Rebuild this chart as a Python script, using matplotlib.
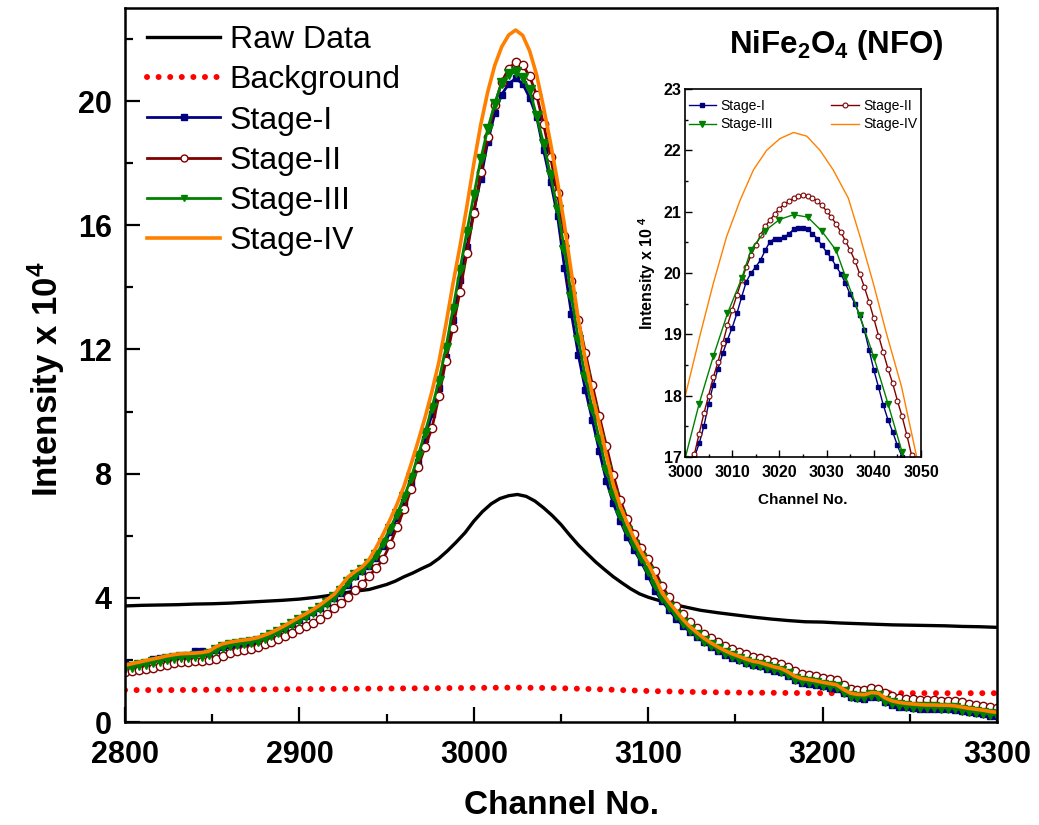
import numpy as np
import matplotlib
matplotlib.use("Agg")
from matplotlib import pyplot as plt
from matplotlib.ticker import MultipleLocator

plt.rcParams['font.family'] = ['Liberation Sans', 'DejaVu Sans']
plt.rcParams['mathtext.fontset'] = 'custom'
plt.rcParams['mathtext.rm'] = 'Liberation Sans:bold'
plt.rcParams['mathtext.bf'] = 'Liberation Sans:bold'
plt.rcParams['mathtext.default'] = 'bf'

# ---- main panel data (intensity in units of 10^4) ----
raw_ch = [2800, 2810, 2820, 2830, 2840, 2850, 2860, 2870, 2880, 2890,
          2900, 2910, 2920, 2930, 2940, 2950, 2955, 2960, 2965, 2970,
          2975, 2980, 2985, 2990, 2995, 3000, 3005, 3010, 3015, 3020,
          3025, 3030, 3035, 3040, 3045, 3050, 3055, 3060, 3065, 3070,
          3075, 3080, 3085, 3090, 3095, 3100, 3110, 3120, 3130, 3140,
          3150, 3160, 3170, 3180, 3190, 3200, 3210, 3220, 3230, 3240,
          3250, 3260, 3270, 3280, 3290, 3300]
raw_data = [3.74, 3.76, 3.77, 3.78, 3.80, 3.81, 3.83, 3.86, 3.89, 3.92,
            3.96, 4.02, 4.10, 4.20, 4.27, 4.43, 4.54, 4.68, 4.80, 4.94,
            5.07, 5.27, 5.52, 5.80, 6.10, 6.47, 6.78, 7.03, 7.20, 7.29,
            7.33, 7.27, 7.12, 6.90, 6.65, 6.36, 6.02, 5.70, 5.42, 5.15,
            4.91, 4.68, 4.48, 4.29, 4.13, 4.02, 3.85, 3.72, 3.60, 3.52,
            3.45, 3.38, 3.32, 3.27, 3.23, 3.22, 3.19, 3.17, 3.15, 3.13,
            3.12, 3.11, 3.10, 3.08, 3.07, 3.05]

bg_ch = np.arange(2800, 3301, 25)
background = [1.03, 1.03, 1.04, 1.05, 1.06, 1.07, 1.08, 1.09, 1.10, 1.11,
              1.09, 1.05, 1.00, 0.97, 0.95, 0.94, 0.93, 0.93, 0.93, 0.93,
              0.93]

ch = np.arange(2800, 3301, 4)
stage1 = [1.90, 1.80, 1.83, 1.88, 2.02, 2.05, 2.03, 2.07, 2.10, 2.11,
          2.28, 2.30, 2.18, 2.32, 2.42, 2.47, 2.51, 2.54, 2.57, 2.62,
          2.70, 2.80, 2.92, 3.02, 3.15, 3.28, 3.40, 3.53, 3.68, 3.85,
          4.00, 4.16, 4.43, 4.70, 4.87, 5.03, 5.29, 5.67, 6.11, 6.58,
          7.09, 7.69, 8.39, 9.13, 9.91, 10.77, 11.75, 12.96, 14.25, 15.30,
          16.45, 17.50, 18.69, 19.61, 20.21, 20.56, 20.73, 20.56, 20.11, 19.50,
          18.42, 17.41, 16.30, 14.64, 13.14, 11.81, 10.69, 9.72, 8.72, 7.77,
          7.04, 6.47, 5.96, 5.53, 5.15, 4.71, 4.22, 3.89, 3.61, 3.33,
          3.10, 2.90, 2.75, 2.57, 2.42, 2.29, 2.17, 2.07, 1.99, 1.90,
          1.83, 1.79, 1.72, 1.65, 1.60, 1.49, 1.35, 1.27, 1.24, 1.20,
          1.15, 1.11, 1.07, 0.92, 0.80, 0.76, 0.75, 0.82, 0.80, 0.64,
          0.55, 0.50, 0.47, 0.45, 0.43, 0.42, 0.42, 0.41, 0.41, 0.39,
          0.35, 0.31, 0.28, 0.25, 0.21, 0.18]
stage2 = [1.60, 1.63, 1.67, 1.71, 1.75, 1.80, 1.85, 1.89, 1.92, 1.94,
          1.96, 1.98, 2.00, 2.02, 2.12, 2.22, 2.28, 2.32, 2.36, 2.42,
          2.50, 2.58, 2.68, 2.76, 2.88, 3.00, 3.10, 3.20, 3.32, 3.48,
          3.66, 3.84, 4.04, 4.25, 4.45, 4.72, 4.95, 5.25, 5.72, 6.28,
          6.85, 7.50, 8.22, 8.85, 9.46, 10.50, 11.64, 12.70, 13.85, 15.10,
          16.40, 17.71, 18.85, 19.88, 20.62, 21.05, 21.25, 21.17, 20.80, 20.20,
          19.26, 18.20, 17.03, 15.65, 14.20, 12.95, 11.90, 10.85, 9.85, 8.90,
          7.95, 7.15, 6.55, 6.05, 5.62, 5.25, 4.85, 4.38, 4.02, 3.74,
          3.47, 3.22, 3.03, 2.85, 2.70, 2.57, 2.45, 2.35, 2.27, 2.18,
          2.11, 2.07, 2.00, 1.93, 1.88, 1.77, 1.63, 1.55, 1.52, 1.48,
          1.43, 1.39, 1.35, 1.20, 1.08, 1.04, 1.03, 1.10, 1.08, 0.92,
          0.83, 0.78, 0.75, 0.73, 0.71, 0.70, 0.70, 0.69, 0.69, 0.67,
          0.63, 0.59, 0.56, 0.53, 0.49, 0.46]
stage3 = [1.73, 1.78, 1.83, 1.88, 1.93, 1.98, 2.03, 2.07, 2.10, 2.11,
          2.12, 2.14, 2.18, 2.32, 2.42, 2.47, 2.51, 2.54, 2.57, 2.62,
          2.70, 2.79, 2.90, 3.02, 3.15, 3.28, 3.40, 3.53, 3.68, 3.85,
          4.02, 4.22, 4.50, 4.75, 4.91, 5.09, 5.38, 5.78, 6.23, 6.71,
          7.24, 7.86, 8.57, 9.32, 10.12, 11.00, 12.05, 13.29, 14.55, 15.79,
          16.97, 18.13, 19.11, 19.91, 20.59, 20.87, 20.94, 20.76, 20.37, 19.52,
          18.63, 17.61, 16.50, 15.22, 13.70, 12.30, 11.10, 10.08, 9.10, 8.12,
          7.30, 6.67, 6.15, 5.69, 5.29, 4.87, 4.40, 4.00, 3.71, 3.44,
          3.18, 2.97, 2.80, 2.62, 2.47, 2.34, 2.22, 2.12, 2.04, 1.95,
          1.88, 1.84, 1.77, 1.70, 1.65, 1.54, 1.40, 1.32, 1.29, 1.25,
          1.20, 1.16, 1.12, 0.97, 0.85, 0.81, 0.80, 0.87, 0.85, 0.69,
          0.60, 0.55, 0.52, 0.50, 0.48, 0.47, 0.47, 0.46, 0.46, 0.44,
          0.40, 0.36, 0.33, 0.30, 0.26, 0.23]
stage4 = [1.83, 1.88, 1.93, 1.98, 2.03, 2.08, 2.13, 2.17, 2.20, 2.21,
          2.22, 2.24, 2.28, 2.42, 2.52, 2.57, 2.61, 2.64, 2.67, 2.72,
          2.80, 2.89, 3.00, 3.12, 3.25, 3.38, 3.50, 3.63, 3.78, 3.95,
          4.12, 4.40, 4.68, 4.85, 5.00, 5.24, 5.62, 6.05, 6.52, 7.02,
          7.60, 8.30, 9.03, 9.80, 10.65, 11.60, 12.80, 14.10, 15.30, 16.60,
          17.98, 19.25, 20.30, 21.15, 21.75, 22.13, 22.29, 22.12, 21.62, 20.85,
          19.80, 18.65, 17.40, 16.00, 14.45, 12.95, 11.65, 10.55, 9.60, 8.60,
          7.65, 6.95, 6.40, 5.90, 5.48, 5.10, 4.65, 4.16, 3.85, 3.58,
          3.30, 3.07, 2.88, 2.70, 2.55, 2.42, 2.30, 2.20, 2.12, 2.03,
          1.96, 1.92, 1.85, 1.78, 1.73, 1.62, 1.48, 1.40, 1.37, 1.33,
          1.28, 1.24, 1.20, 1.05, 0.93, 0.89, 0.88, 0.95, 0.93, 0.77,
          0.68, 0.63, 0.60, 0.58, 0.56, 0.55, 0.55, 0.54, 0.54, 0.52,
          0.48, 0.44, 0.41, 0.38, 0.34, 0.31]

# ---- inset data (peak top) ----
in_ch12 = np.arange(3000, 3051, 1)
in_stage1 = [16.50, 16.75, 17.00, 17.22, 17.50, 17.87, 18.18, 18.44, 18.69, 18.91,
             19.11, 19.34, 19.61, 19.86, 20.00, 20.10, 20.21, 20.37, 20.51, 20.56,
             20.56, 20.58, 20.64, 20.71, 20.73, 20.74, 20.71, 20.64, 20.56, 20.45,
             20.34, 20.24, 20.11, 19.99, 19.83, 19.65, 19.50, 19.31, 19.07, 18.75,
             18.42, 18.14, 17.85, 17.61, 17.41, 17.19, 17.00, 16.75, 16.50, 16.25,
             16.00]
in_stage2 = [16.40, 16.75, 17.05, 17.38, 17.71, 18.00, 18.30, 18.55, 18.85, 19.15,
             19.40, 19.64, 19.88, 20.10, 20.29, 20.45, 20.62, 20.76, 20.86, 20.96,
             21.05, 21.12, 21.17, 21.22, 21.25, 21.27, 21.26, 21.23, 21.17, 21.10,
             21.01, 20.91, 20.80, 20.67, 20.52, 20.37, 20.20, 19.99, 19.77, 19.53,
             19.26, 18.98, 18.71, 18.44, 18.20, 17.92, 17.66, 17.36, 17.03, 16.70,
             16.40]
in_ch3 = [3000, 3003, 3006, 3009, 3012, 3014, 3017, 3020, 3023, 3026,
          3029, 3032, 3034, 3037, 3040, 3043, 3046, 3049]
in_stage3 = [16.97, 17.87, 18.64, 19.34, 19.91, 20.38, 20.69, 20.87, 20.95, 20.91,
             20.68, 20.37, 19.94, 19.31, 18.63, 17.87, 17.08, 16.20]
in_ch4 = [3000, 3003.2, 3006.0, 3008.8, 3011.7, 3014.5, 3017.3, 3020.1, 3023.0, 3025.8,
          3028.6, 3031.4, 3034.6, 3037.1, 3039.9, 3042.7, 3045.9, 3049.1, 3052.0]
in_stage4 = [17.98, 18.99, 19.83, 20.59, 21.19, 21.68, 22.00, 22.19, 22.29, 22.23,
             22.00, 21.68, 21.22, 20.59, 19.83, 19.01, 18.14, 17.00, 16.00]

c_blue = '#000080'
c_red = '#800000'
c_green = '#008000'
c_orange = '#FF8000'

fig = plt.figure(figsize=(10.39, 8.25), dpi=100)
ax = fig.add_axes([0.1203, 0.1248, 0.8393, 0.8655])

ax.plot(raw_ch, raw_data, color='black', lw=2.4, label='Raw Data')
ax.plot(bg_ch, background, color='red', lw=4.3, ls=(0, (0.01, 1.93)),
        dash_capstyle='round', label='Background')
ax.plot(ch, stage1, color=c_blue, lw=2, marker='s', ms=5, mec=c_blue, mfc=c_blue,
        label='Stage-I')
ax.plot(ch, stage2, color=c_red, lw=2, marker='o', ms=6, mfc='white', mec=c_red,
        mew=1.0, label='Stage-II')
ax.plot(ch, stage3, color=c_green, lw=2, marker='v', ms=6.5, mec=c_green, mfc=c_green,
        label='Stage-III')
ax.plot(ch, stage4, color=c_orange, lw=2.6, label='Stage-IV')

ax.set_xlim(2800, 3300)
ax.set_ylim(0, 23)
ax.xaxis.set_major_locator(MultipleLocator(100))
ax.xaxis.set_minor_locator(MultipleLocator(50))
ax.yaxis.set_major_locator(MultipleLocator(4))
ax.yaxis.set_minor_locator(MultipleLocator(2))
ax.tick_params(which='both', direction='in', width=1.6, top=False, right=False)
ax.tick_params(which='major', length=10.5, labelsize=22)
ax.tick_params(which='minor', length=5.5)
ax.tick_params(axis='x', which='major', pad=13)
ax.tick_params(axis='y', which='major', pad=9.5)
for lbl in ax.get_xticklabels() + ax.get_yticklabels():
    lbl.set_fontweight('bold')
for sp in ax.spines.values():
    sp.set_linewidth(1.8)

ax.set_xlabel('Channel No.', fontsize=24, fontweight='bold', labelpad=14)
ax.set_ylabel('Intensity x 10$^4$', fontsize=25, fontweight='bold', labelpad=8,
              y=0.48)

leg = ax.legend(loc='upper left', bbox_to_anchor=(0.025, 0.976), frameon=False,
                fontsize=23, handlelength=2.3, handletextpad=0.3,
                labelspacing=0.32, borderpad=0, borderaxespad=0)
for h in leg.legend_handles:
    h.set_markersize(5)

fig.text(0.8046, 0.9455, r'NiFe$_2$O$_4$ (NFO)', fontsize=22.5, fontweight='bold',
         ha='center', va='center')

# ---- inset ----
ins = fig.add_axes([0.6593, 0.4461, 0.2271, 0.4461])
h1, = ins.plot(in_ch12, in_stage1, color=c_blue, lw=1, marker='s', ms=3,
               mfc=c_blue, mec=c_blue, label='Stage-I')
h2, = ins.plot(in_ch12, in_stage2, color=c_red, lw=1, marker='o', ms=3.5,
               mfc='white', mec=c_red, mew=0.8, label='Stage-II')
h3, = ins.plot(in_ch3, in_stage3, color=c_green, lw=1, marker='v', ms=4,
               mfc=c_green, mec=c_green, label='Stage-III')
h4, = ins.plot(in_ch4, in_stage4, color=c_orange, lw=1, label='Stage-IV')
ins.set_xlim(3000, 3050)
ins.set_ylim(17, 23)
ins.xaxis.set_major_locator(MultipleLocator(10))
ins.xaxis.set_minor_locator(MultipleLocator(5))
ins.yaxis.set_major_locator(MultipleLocator(1))
ins.yaxis.set_minor_locator(MultipleLocator(0.5))
ins.tick_params(which='both', direction='in', width=1, top=False, right=False)
ins.tick_params(which='major', length=5, labelsize=11.5)
ins.tick_params(which='minor', length=2.5)
ins.tick_params(axis='x', which='major', pad=6)
ins.tick_params(axis='y', which='major', pad=2.5)
for lbl in ins.get_xticklabels() + ins.get_yticklabels():
    lbl.set_fontweight('bold')
for sp in ins.spines.values():
    sp.set_linewidth(1.2)
ins.set_xlabel('Channel No.', fontsize=11, fontweight='bold', labelpad=9)
ins.set_ylabel('Intensity x 10 $^{4}$', fontsize=11.5, fontweight='bold', labelpad=4)
ins.legend([h1, h3, h2, h4], ['Stage-I', 'Stage-III', 'Stage-II', 'Stage-IV'],
           ncol=2, loc='upper center', bbox_to_anchor=(0.5, 0.972), frameon=False,
           fontsize=10, handlelength=2.0, handletextpad=0.3, columnspacing=4.2,
           labelspacing=0.3, borderpad=0, borderaxespad=0)

fig.savefig('out.png', dpi=100)
